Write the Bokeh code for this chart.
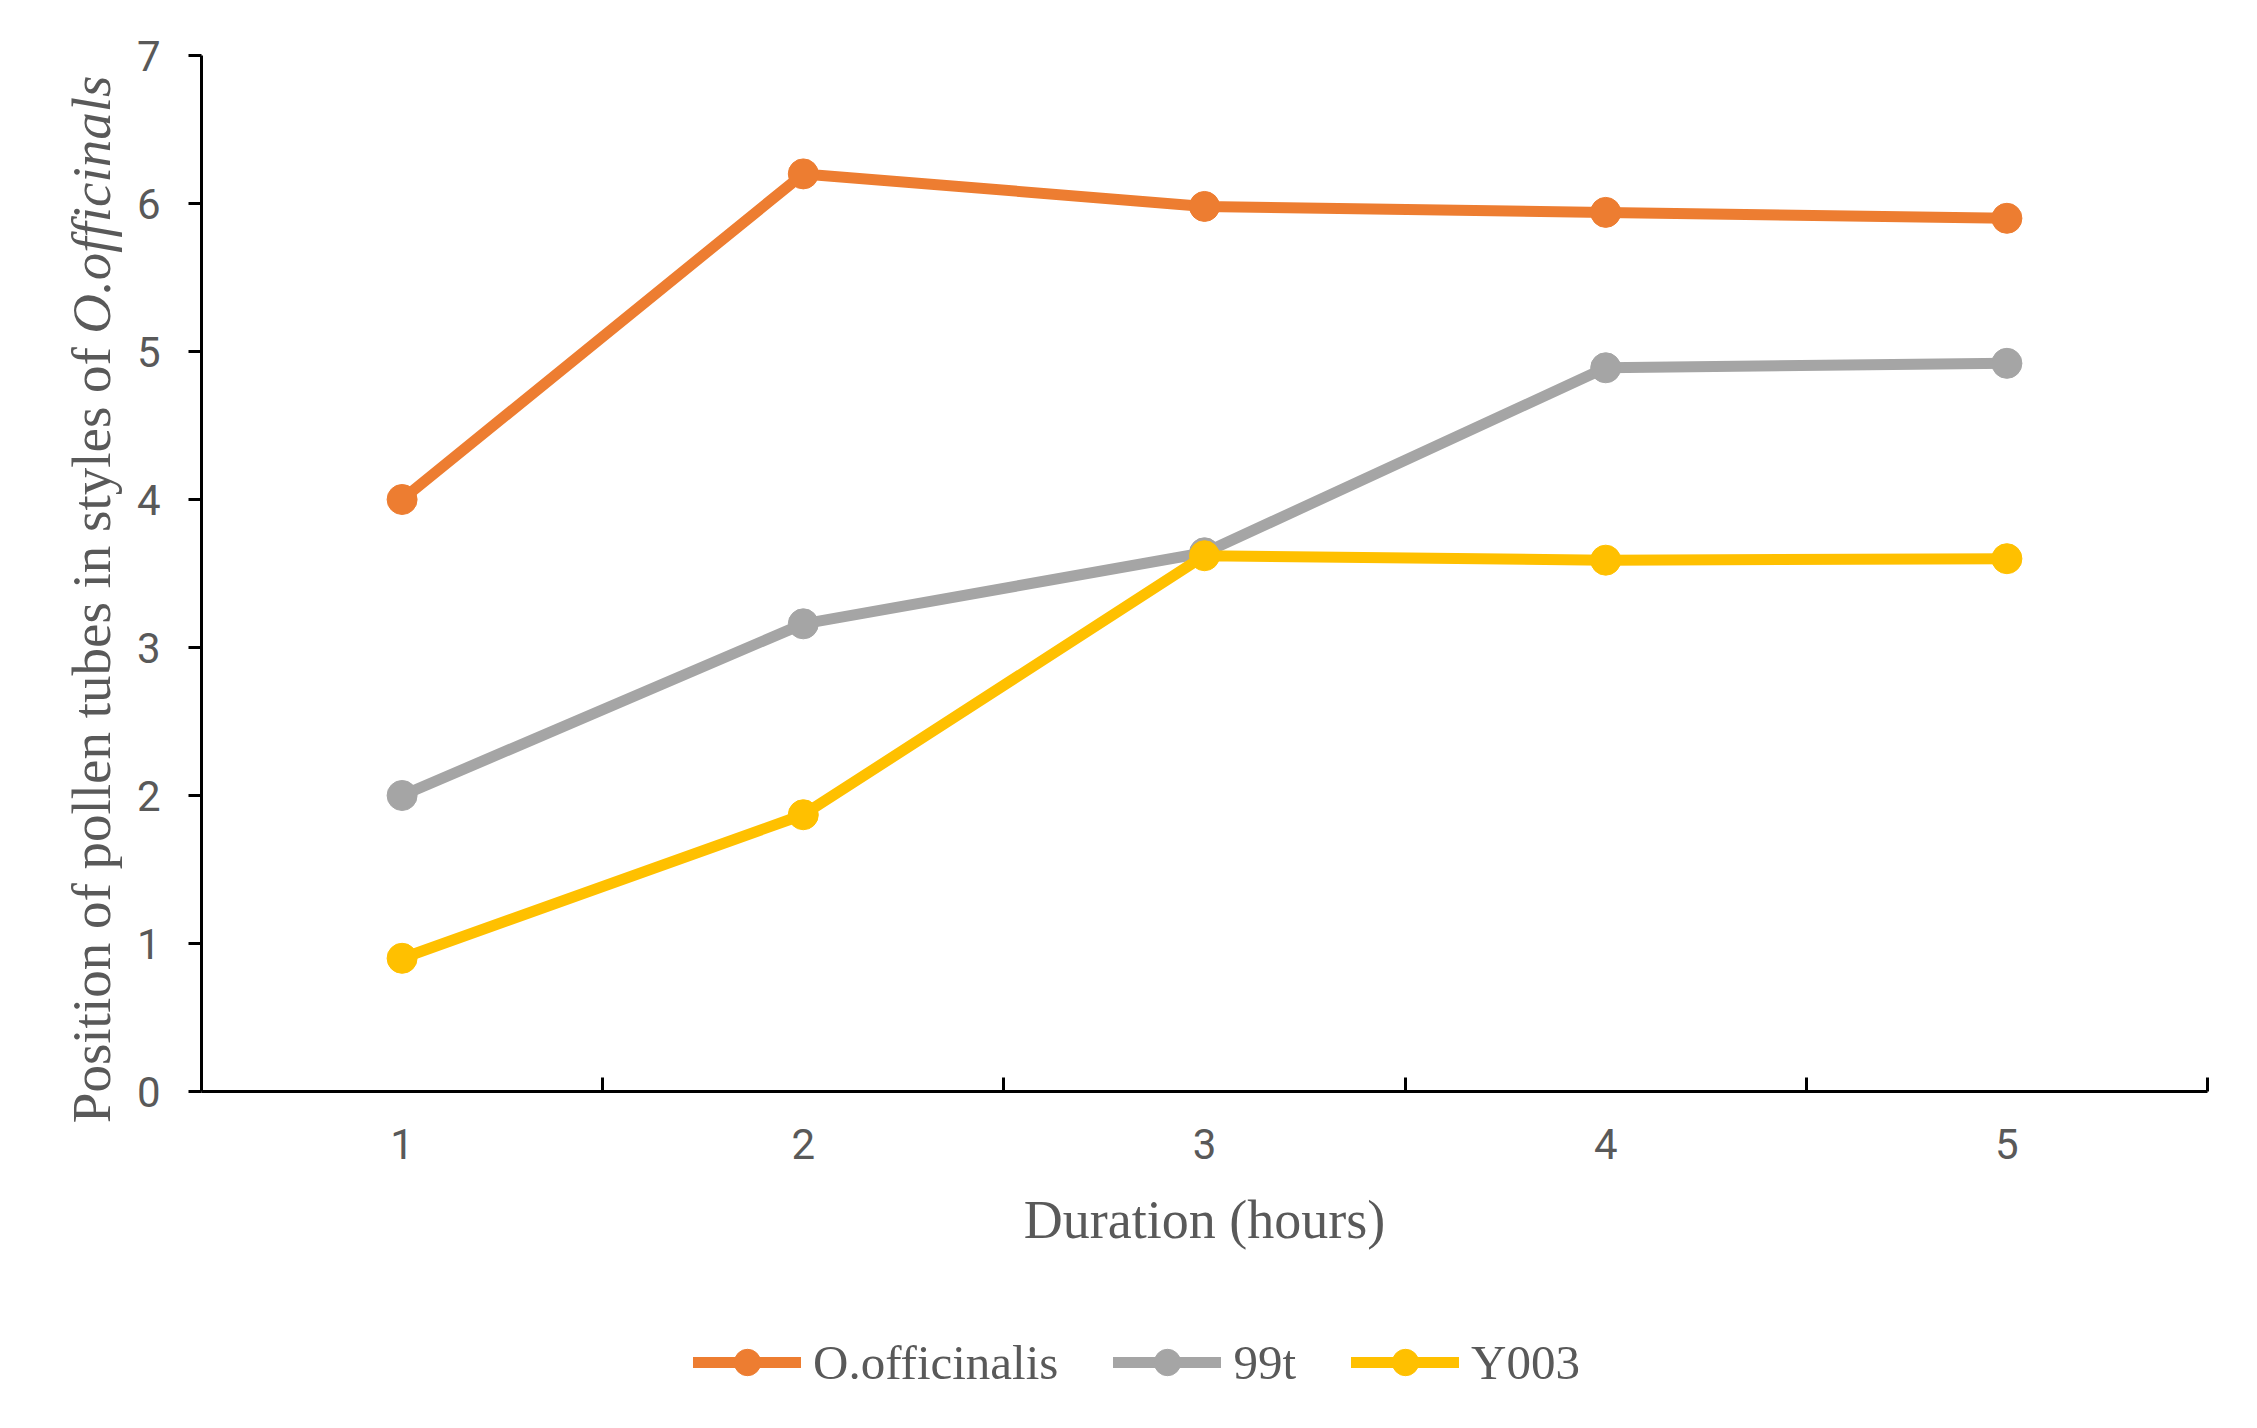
import math

from bokeh.plotting import figure
from bokeh.layouts import column
from bokeh.models import Range1d, FixedTicker, Legend, LegendItem, Label
from bokeh.embed import file_html
from bokeh.resources import INLINE

# Mean position of pollen tubes in the style, per hour after pollination
hours = [1, 2, 3, 4, 5]
officinalis = [4.0, 6.2, 5.98, 5.94, 5.90]
t99 = [2.0, 3.16, 3.64, 4.89, 4.92]
y003 = [0.9, 1.87, 3.62, 3.59, 3.60]

series_names = ["O.officinalis", "99t", "Y003"]
series_values = [officinalis, t99, y003]
series_colors = ["#ED7D31", "#A5A5A5", "#FFC000"]

y_ticks = [0, 1, 2, 3, 4, 5, 6, 7]
x_ticks = [1, 2, 3, 4, 5]
x_boundaries = [1.5, 2.5, 3.5, 4.5, 5.5]

TEXT = "#595959"
SERIF = "Liberation Serif"
SANS = "Roboto"
LINE_W = 11
MARKER = 30

p = figure(
    width=2257, height=1290,
    output_backend="svg", toolbar_location=None,
    x_range=Range1d(0.5, 5.5), y_range=Range1d(0, 7),
    min_border_left=201, min_border_right=50,
    min_border_top=55, min_border_bottom=199,
    background_fill_color="white", border_fill_color="white",
)
p.outline_line_color = None
p.grid.visible = False

# x axis: labels at the category centres, short inward ticks between categories
xa = p.xaxis[0]
xa.ticker = FixedTicker(ticks=x_ticks, minor_ticks=x_boundaries)
xa.major_tick_in = 0
xa.major_tick_out = 0
xa.minor_tick_in = 14
xa.minor_tick_out = 0
xa.minor_tick_line_color = "black"
xa.minor_tick_line_width = 3
xa.axis_line_color = "black"
xa.axis_line_width = 3
xa.major_label_text_font = SANS
xa.major_label_text_font_size = "42px"
xa.major_label_text_color = TEXT
xa.major_label_standoff = 37
xa.axis_label = "Duration (hours)"
xa.axis_label_text_font = SERIF
xa.axis_label_text_font_style = "normal"
xa.axis_label_text_font_size = "54px"
xa.axis_label_text_color = TEXT
xa.axis_label_standoff = 28

ya = p.yaxis[0]
ya.ticker = FixedTicker(ticks=y_ticks, minor_ticks=[])
ya.major_tick_in = 0
ya.major_tick_out = 13
ya.major_tick_line_color = "black"
ya.major_tick_line_width = 3
ya.axis_line_color = "black"
ya.axis_line_width = 3
ya.major_label_text_font = SANS
ya.major_label_text_font_size = "42px"
ya.major_label_text_color = TEXT
ya.major_label_standoff = 28

for vals, color in zip(series_values, series_colors):
    p.line(hours, vals, line_width=LINE_W, line_color=color, line_cap="round", line_join="round")
    p.scatter(hours, vals, size=MARKER, marker="circle", fill_color=color, line_color=color)

# y axis title: roman text followed by the italic species name
p.add_layout(Label(
    x=0.226, y=5.03,
    text="Position of pollen tubes in styles of",
    angle=math.pi / 2, text_align="right", text_baseline="middle",
    text_font=SERIF, text_font_size="55px", text_color=TEXT,
), "left")
p.add_layout(Label(
    x=0.226, y=5.12,
    text="O.officinals",
    angle=math.pi / 2, text_align="left", text_baseline="middle",
    text_font=SERIF, text_font_size="55px", text_font_style="italic",
    text_color=TEXT,
), "left")

# legend strip under the chart; its renderers only supply the key swatches
key = figure(
    width=2257, height=138,
    output_backend="svg", toolbar_location=None,
    x_axis_location=None, y_axis_location=None,
    min_border=0, background_fill_color="white", border_fill_color="white",
)
key.outline_line_color = None
key.grid.visible = False

nan = float("nan")
items = []
for name, color in zip(series_names, series_colors):
    ln = key.line([nan], [nan], line_width=LINE_W, line_color=color, line_cap="round")
    mk = key.scatter([nan], [nan], size=MARKER, marker="circle", fill_color=color, line_color=color)
    items.append(LegendItem(label=name, renderers=[ln, mk]))

key.add_layout(Legend(
    items=items,
    orientation="horizontal",
    location=(492, 33),
    glyph_width=108, glyph_height=66,
    label_height=50, label_standoff=12, spacing=55,
    padding=0, margin=0,
    border_line_color=None, background_fill_alpha=0,
    label_text_font=SERIF, label_text_font_size="49px",
    label_text_color=TEXT,
))

open("out.html", "w").write(file_html(column(p, key), INLINE))
